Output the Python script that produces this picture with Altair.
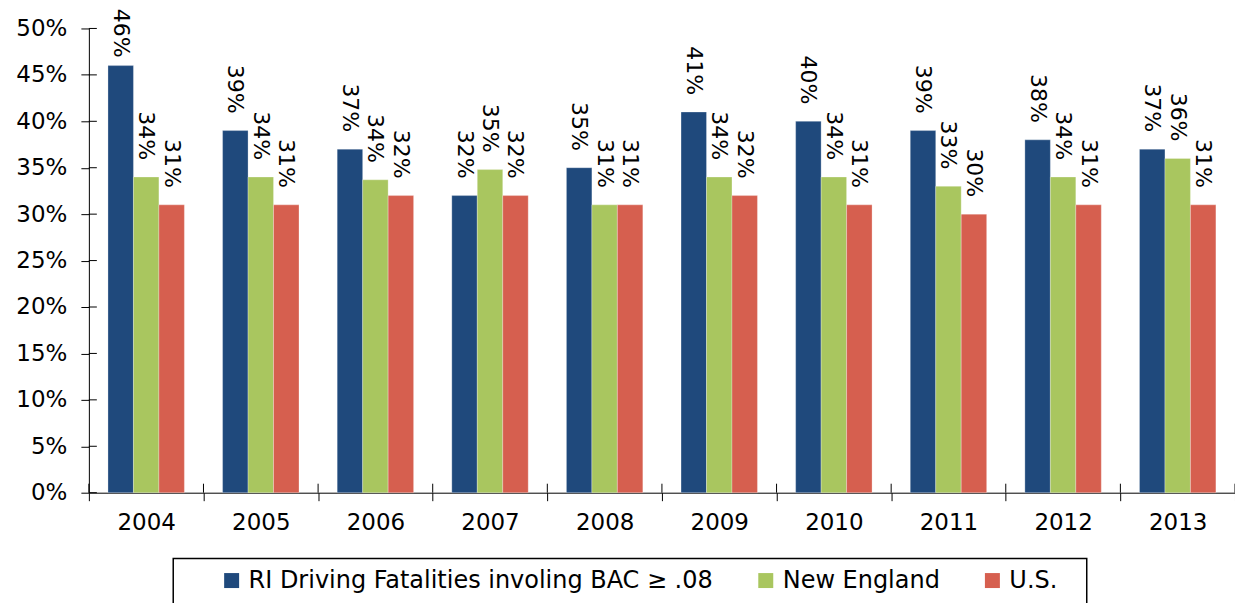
import altair as alt
import pandas as pd

years = ["2004", "2005", "2006", "2007", "2008", "2009", "2010", "2011", "2012", "2013"]
series = ["RI Driving Fatalities involing BAC \u2265 .08", "New England", "U.S."]
ri_values = [46, 39, 37, 32, 35, 41, 40, 39, 38, 37]
ne_values = [34, 34, 33.7, 34.8, 31, 34, 34, 33, 34, 36]
us_values = [31, 31, 32, 32, 31, 32, 31, 30, 31, 31]
colors = ["#1F497C", "#A9C65F", "#D65F4F"]
y_ticks = [0, 5, 10, 15, 20, 25, 30, 35, 40, 45, 50]

rows = []
for s, vals in zip(series, [ri_values, ne_values, us_values]):
    for y, v in zip(years, vals):
        rows.append({"year": y, "series": s, "value": v, "label": f"{int(v + 0.5)}%"})
df = pd.DataFrame(rows)

W, H = 1148, 465
FONT = "DejaVu Sans"

x_enc = alt.X("year:N", sort=years, scale=alt.Scale(paddingInner=0, paddingOuter=0),
              axis=alt.Axis(title=None, labelAngle=0, tickBand="extent", tickSize=8,
                            labelPadding=11, labelFontSize=23, labelFont=FONT,
                            labelColor="black", domainColor="black", tickColor="black",
                            grid=False))
xo_enc = alt.XOffset("series:N", sort=series,
                     scale=alt.Scale(paddingOuter=0.75, paddingInner=0))
y_enc = alt.Y("value:Q", scale=alt.Scale(domain=[0, 50]),
              axis=alt.Axis(title=None, values=y_ticks, labelExpr="datum.value + '%'",
                            tickSize=8, labelPadding=14, labelFontSize=23, labelFont=FONT,
                            labelColor="black", domainColor="black", tickColor="black",
                            grid=False))

base = alt.Chart(df)
bars = base.mark_bar(stroke="white", strokeOpacity=0.35, strokeWidth=0.8).encode(
    x=x_enc, xOffset=xo_enc, y=y_enc,
    color=alt.Color("series:N", sort=series,
                    scale=alt.Scale(domain=series, range=colors),
                    legend=alt.Legend(title=None, orient="none", legendX=131, legendY=541,
                                      direction="horizontal", symbolType="square",
                                      symbolSize=225, symbolStrokeWidth=0,
                                      labelFontSize=24, labelFont=FONT, labelColor="black",
                                      labelOffset=5, columnPadding=40, labelLimit=1000,
                                      padding=0)),
)
label_enc = dict(x=alt.X("year:N", sort=years), xOffset=alt.XOffset("series:N", sort=series),
                 y="value:Q", text="label:N")
labels = base.transform_filter("datum.value < 45").mark_text(
    angle=90, align="right", baseline="middle", dx=-17,
    fontSize=22, font=FONT, color="black").encode(**label_enc)
labels_top = base.transform_filter("datum.value >= 45").mark_text(
    angle=90, align="right", baseline="middle", dx=-8,
    fontSize=22, font=FONT, color="black").encode(**label_enc)

tick_df = pd.DataFrame({"v": y_ticks})
y_inner = alt.Chart(tick_df).mark_rule(color="black", strokeWidth=1).encode(
    y="v:Q", x=alt.value(0), x2=alt.value(8))

year_df = pd.DataFrame({"year": years})
x_inner = alt.Chart(year_df).mark_rule(color="black", strokeWidth=1).encode(
    x=alt.X("year:N", sort=years, bandPosition=0), y=alt.value(H - 9), y2=alt.value(H))
x_inner_end = alt.Chart(pd.DataFrame({"year": years[-1:]})).mark_rule(color="black", strokeWidth=1).encode(
    x=alt.X("year:N", sort=years, bandPosition=1), y=alt.value(H - 9), y2=alt.value(H))

box = alt.Chart(pd.DataFrame({"a": [0]})).mark_rect(
    fillOpacity=0, stroke="black", strokeWidth=1.5).encode(
    x=alt.value(84.5), x2=alt.value(999.5), y=alt.value(531), y2=alt.value(H + 200))

chart = alt.layer(bars, labels, labels_top, y_inner, x_inner, x_inner_end, box).properties(
    width=W, height=H,
    autosize=alt.AutoSizeParams(type="none"),
    padding={"left": 81, "top": 20, "right": 0, "bottom": 115},
).configure_view(strokeWidth=0)

chart.save("out.html", embed_options={"renderer": "svg", "actions": False})
